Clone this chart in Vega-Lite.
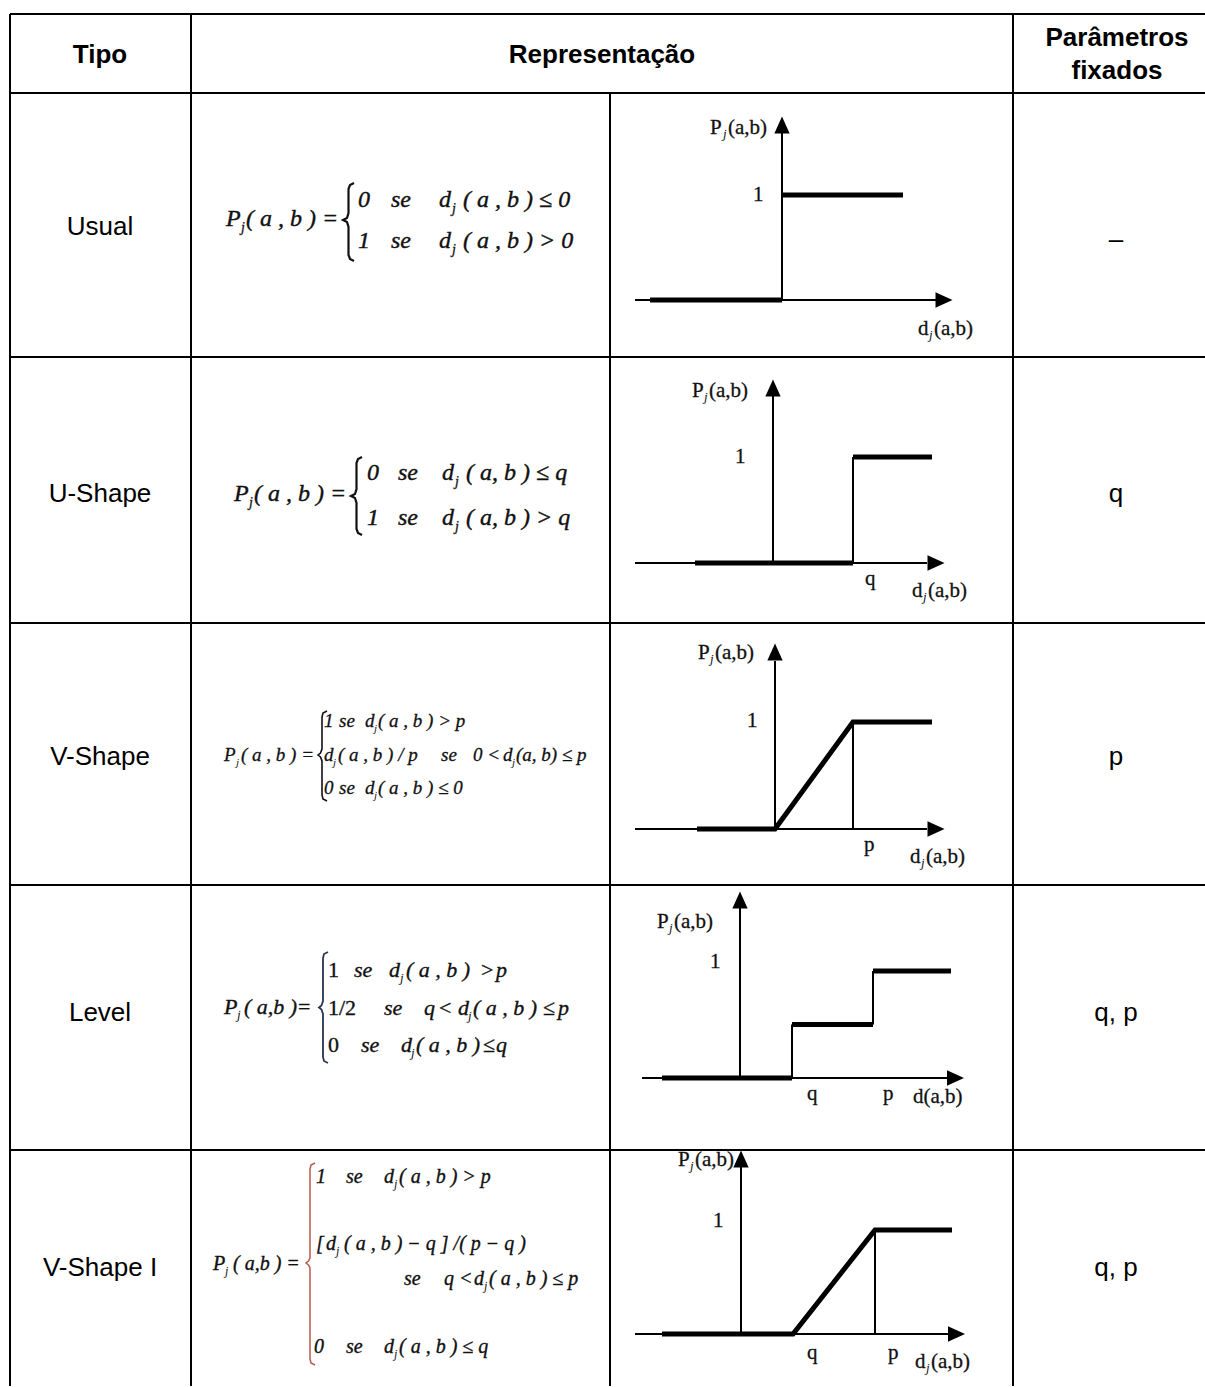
{
"$schema": "https://vega.github.io/schema/vega-lite/v6.json",
"background": "white",
"padding": {"left": 9, "top": 13, "right": 0, "bottom": 0},
"config": {"view": {"stroke": null}},
"columns": 4,
"spacing": 0,
"align": "each",
"bounds": "flush",
"concat": [
 {"width": 181, "height": 79, "layer": [
  {"data": {"values": [{}]}, "mark": {"type": "rule", "color": "#000", "strokeWidth": 2}, "encoding": {"x": {"value": 0}}},
  {"data": {"values": [{}]}, "mark": {"type": "rule", "color": "#000", "strokeWidth": 2}, "encoding": {"y": {"value": 0}}},
  {"data": {"values": [{"texto": "Tipo", "x": 90, "y": 49}]}, "mark": {"type": "text", "font": "Liberation Sans", "fontWeight": "bold", "fontSize": 26, "align": "center", "baseline": "alphabetic", "color": "#000"},
   "encoding": {"x": {"field": "x", "type": "quantitative", "scale": {"domain": [0, 181], "nice": false, "zero": false}, "axis": null}, "y": {"field": "y", "type": "quantitative", "scale": {"domain": [0, 79], "reverse": true, "nice": false, "zero": false}, "axis": null}, "text": {"field": "texto"}}}
 ]},
 {"width": 419, "height": 79, "layer": [
  {"data": {"values": [{}]}, "mark": {"type": "rule", "color": "#000", "strokeWidth": 2}, "encoding": {"x": {"value": 0}}},
  {"data": {"values": [{}]}, "mark": {"type": "rule", "color": "#000", "strokeWidth": 2}, "encoding": {"y": {"value": 0}}},
  {"data": {"values": [{"texto": "Representação", "x": 411, "y": 49}]}, "mark": {"type": "text", "font": "Liberation Sans", "fontWeight": "bold", "fontSize": 26, "align": "center", "baseline": "alphabetic", "color": "#000"},
   "encoding": {"x": {"field": "x", "type": "quantitative", "scale": {"domain": [0, 419], "nice": false, "zero": false}, "axis": null}, "y": {"field": "y", "type": "quantitative", "scale": {"domain": [0, 79], "reverse": true, "nice": false, "zero": false}, "axis": null}, "text": {"field": "texto"}}}
 ]},
 {"width": 403, "height": 79, "layer": [
  {"data": {"values": [{}]}, "mark": {"type": "rule", "color": "#000", "strokeWidth": 2}, "encoding": {"y": {"value": 0}}}
 ]},
 {"width": 194, "height": 79, "layer": [
  {"data": {"values": [{}]}, "mark": {"type": "rule", "color": "#000", "strokeWidth": 2}, "encoding": {"x": {"value": 0}}},
  {"data": {"values": [{}]}, "mark": {"type": "rule", "color": "#000", "strokeWidth": 2}, "encoding": {"y": {"value": 0}}},
  {"data": {"values": [{"texto": "Parâmetros", "x": 104, "y": 32}, {"texto": "fixados", "x": 104, "y": 65}]}, "mark": {"type": "text", "font": "Liberation Sans", "fontWeight": "bold", "fontSize": 26, "align": "center", "baseline": "alphabetic", "color": "#000"},
   "encoding": {"x": {"field": "x", "type": "quantitative", "scale": {"domain": [0, 194], "nice": false, "zero": false}, "axis": null}, "y": {"field": "y", "type": "quantitative", "scale": {"domain": [0, 79], "reverse": true, "nice": false, "zero": false}, "axis": null}, "text": {"field": "texto"}}}
 ]},

 {"width": 181, "height": 264, "layer": [
  {"data": {"values": [{}]}, "mark": {"type": "rule", "color": "#000", "strokeWidth": 2}, "encoding": {"x": {"value": 0}}},
  {"data": {"values": [{}]}, "mark": {"type": "rule", "color": "#000", "strokeWidth": 2}, "encoding": {"y": {"value": 0}}},
  {"data": {"values": [{"texto": "Usual", "x": 90, "y": 142}]}, "mark": {"type": "text", "font": "Liberation Sans", "fontSize": 26, "align": "center", "baseline": "alphabetic", "color": "#000"},
   "encoding": {"x": {"field": "x", "type": "quantitative", "scale": {"domain": [0, 181], "nice": false, "zero": false}, "axis": null}, "y": {"field": "y", "type": "quantitative", "scale": {"domain": [0, 264], "reverse": true, "nice": false, "zero": false}, "axis": null}, "text": {"field": "texto"}}}
 ]},
 {"width": 419, "height": 264, "layer": [
  {"data": {"values": [{}]}, "mark": {"type": "rule", "color": "#000", "strokeWidth": 2}, "encoding": {"x": {"value": 0}}},
  {"data": {"values": [{}]}, "mark": {"type": "rule", "color": "#000", "strokeWidth": 2}, "encoding": {"y": {"value": 0}}},
  {"data": {"values": [{"i": 0, "x": 163, "y": 90}, {"i": 1, "x": 159, "y": 92}, {"i": 2, "x": 157.5, "y": 96}, {"i": 3, "x": 157.5, "y": 120}, {"i": 4, "x": 156, "y": 125}, {"i": 5, "x": 152, "y": 127}, {"i": 6, "x": 156, "y": 129}, {"i": 7, "x": 157.5, "y": 134}, {"i": 8, "x": 157.5, "y": 162}, {"i": 9, "x": 159, "y": 166}, {"i": 10, "x": 163, "y": 168}]},
   "mark": {"type": "line", "color": "#111", "strokeWidth": 2.2},
   "encoding": {"x": {"field": "x", "type": "quantitative", "scale": {"domain": [0, 419], "nice": false, "zero": false}, "axis": null}, "y": {"field": "y", "type": "quantitative", "scale": {"domain": [0, 264], "reverse": true, "nice": false, "zero": false}, "axis": null}, "order": {"field": "i"}}},
  {"data": {"values": [
    {"t": "P", "x": 35, "y": 133, "r": "it"}, {"t": "j", "x": 50, "y": 139, "r": "sub"}, {"t": "( a , b ) =", "x": 55, "y": 133, "r": "it"},
    {"t": "0", "x": 167, "y": 114, "r": "it"}, {"t": "se", "x": 200, "y": 114, "r": "it"}, {"t": "d", "x": 248, "y": 114, "r": "it"}, {"t": "j", "x": 261, "y": 120, "r": "sub"}, {"t": "( a , b ) ≤ 0", "x": 272, "y": 114, "r": "it"},
    {"t": "1", "x": 167, "y": 155, "r": "it"}, {"t": "se", "x": 200, "y": 155, "r": "it"}, {"t": "d", "x": 248, "y": 155, "r": "it"}, {"t": "j", "x": 261, "y": 161, "r": "sub"}, {"t": "( a , b ) > 0", "x": 272, "y": 155, "r": "it"}
   ]},
   "layer": [
    {"transform": [{"filter": "datum.r == 'it'"}], "mark": {"type": "text", "font": "Liberation Serif", "fontStyle": "italic", "fontSize": 24, "align": "left", "baseline": "alphabetic", "color": "#111", "stroke": "#111", "strokeWidth": 0.4},
     "encoding": {"x": {"field": "x", "type": "quantitative", "scale": {"domain": [0, 419], "nice": false, "zero": false}, "axis": null}, "y": {"field": "y", "type": "quantitative", "scale": {"domain": [0, 264], "reverse": true, "nice": false, "zero": false}, "axis": null}, "text": {"field": "t"}}},
    {"transform": [{"filter": "datum.r == 'sub'"}], "mark": {"type": "text", "font": "Liberation Serif", "fontStyle": "italic", "fontSize": 14, "align": "left", "baseline": "alphabetic", "color": "#111", "stroke": "#111", "strokeWidth": 0.3},
     "encoding": {"x": {"field": "x", "type": "quantitative", "scale": {"domain": [0, 419], "nice": false, "zero": false}, "axis": null}, "y": {"field": "y", "type": "quantitative", "scale": {"domain": [0, 264], "reverse": true, "nice": false, "zero": false}, "axis": null}, "text": {"field": "t"}}}
   ]}
 ]},
 {"width": 403, "height": 264, "layer": [
  {"data": {"values": [{}]}, "mark": {"type": "rule", "color": "#000", "strokeWidth": 2}, "encoding": {"x": {"value": 0}}},
  {"data": {"values": [{}]}, "mark": {"type": "rule", "color": "#000", "strokeWidth": 2}, "encoding": {"y": {"value": 0}}},
  {"data": {"values": [{"x": -1.2149, "y": 0, "x2": 1.281, "y2": 0}, {"x": 0, "y": 0, "x2": 0, "y2": 1.6095}]},
   "mark": {"type": "rule", "color": "#000", "strokeWidth": 2},
   "encoding": {"x": {"field": "x", "type": "quantitative", "scale": {"domain": [-1.42149, 1.90909], "nice": false, "zero": false}, "axis": null}, "y": {"field": "y", "type": "quantitative", "scale": {"domain": [-0.54286, 1.97143], "nice": false, "zero": false}, "axis": null}, "x2": {"field": "x2"}, "y2": {"field": "y2"}}},
  {"data": {"values": [{"s": "a", "i": 0, "d": -1.0909, "P": 0}, {"s": "a", "i": 1, "d": 0, "P": 0}, {"s": "b", "i": 0, "d": 0, "P": 1}, {"s": "b", "i": 1, "d": 1, "P": 1}]},
   "mark": {"type": "line", "color": "#000", "strokeWidth": 5, "strokeCap": "butt", "strokeJoin": "miter"},
   "encoding": {"x": {"field": "d", "type": "quantitative", "scale": {"domain": [-1.42149, 1.90909], "nice": false, "zero": false}, "axis": null}, "y": {"field": "P", "type": "quantitative", "scale": {"domain": [-0.54286, 1.97143], "nice": false, "zero": false}, "axis": null}, "detail": {"field": "s"}, "order": {"field": "i"}}},
  {"data": {"values": [{"d": 1.3388, "P": 0, "dir": "direita"}, {"d": 0, "P": 1.6667, "dir": "cima"}]},
   "mark": {"type": "point", "filled": true, "color": "#000", "opacity": 1, "size": 289, "strokeWidth": 0},
   "encoding": {"x": {"field": "d", "type": "quantitative", "scale": {"domain": [-1.42149, 1.90909], "nice": false, "zero": false}, "axis": null}, "y": {"field": "P", "type": "quantitative", "scale": {"domain": [-0.54286, 1.97143], "nice": false, "zero": false}, "axis": null}, "shape": {"field": "dir", "type": "nominal", "scale": {"domain": ["cima", "direita"], "range": ["M0,-1L0.9,1L-0.9,1Z", "M1,0L-1,0.9L-1,-0.9Z"]}, "legend": null}}},
  {"data": {"values": [
    {"t": "P", "d": -0.595, "P": 1.581, "r": "rm"}, {"t": "j", "d": -0.4876, "P": 1.543, "r": "sub"}, {"t": "(a,b)", "d": -0.4463, "P": 1.581, "r": "rm"},
    {"t": "1", "d": -0.2397, "P": 0.9429, "r": "rm"},
    {"t": "d", "d": 1.124, "P": -0.3333, "r": "rm"}, {"t": "j", "d": 1.2149, "P": -0.3714, "r": "sub"}, {"t": "(a,b)", "d": 1.2562, "P": -0.3333, "r": "rm"}
   ]},
   "layer": [
    {"transform": [{"filter": "datum.r == 'rm'"}], "mark": {"type": "text", "font": "Liberation Serif", "fontSize": 21, "align": "left", "baseline": "alphabetic", "color": "#111", "stroke": "#111", "strokeWidth": 0.3},
     "encoding": {"x": {"field": "d", "type": "quantitative", "scale": {"domain": [-1.42149, 1.90909], "nice": false, "zero": false}, "axis": null}, "y": {"field": "P", "type": "quantitative", "scale": {"domain": [-0.54286, 1.97143], "nice": false, "zero": false}, "axis": null}, "text": {"field": "t"}}},
    {"transform": [{"filter": "datum.r == 'sub'"}], "mark": {"type": "text", "font": "Liberation Serif", "fontStyle": "italic", "fontSize": 13, "align": "left", "baseline": "alphabetic", "color": "#111"},
     "encoding": {"x": {"field": "d", "type": "quantitative", "scale": {"domain": [-1.42149, 1.90909], "nice": false, "zero": false}, "axis": null}, "y": {"field": "P", "type": "quantitative", "scale": {"domain": [-0.54286, 1.97143], "nice": false, "zero": false}, "axis": null}, "text": {"field": "t"}}}
   ]}
 ]},
 {"width": 194, "height": 264, "layer": [
  {"data": {"values": [{}]}, "mark": {"type": "rule", "color": "#000", "strokeWidth": 2}, "encoding": {"x": {"value": 0}}},
  {"data": {"values": [{}]}, "mark": {"type": "rule", "color": "#000", "strokeWidth": 2}, "encoding": {"y": {"value": 0}}},
  {"data": {"values": [{"texto": "–", "x": 103, "y": 155}]}, "mark": {"type": "text", "font": "Liberation Sans", "fontSize": 26, "align": "center", "baseline": "alphabetic", "color": "#000"},
   "encoding": {"x": {"field": "x", "type": "quantitative", "scale": {"domain": [0, 194], "nice": false, "zero": false}, "axis": null}, "y": {"field": "y", "type": "quantitative", "scale": {"domain": [0, 264], "reverse": true, "nice": false, "zero": false}, "axis": null}, "text": {"field": "texto"}}}
 ]},

 {"width": 181, "height": 266, "layer": [
  {"data": {"values": [{}]}, "mark": {"type": "rule", "color": "#000", "strokeWidth": 2}, "encoding": {"x": {"value": 0}}},
  {"data": {"values": [{}]}, "mark": {"type": "rule", "color": "#000", "strokeWidth": 2}, "encoding": {"y": {"value": 0}}},
  {"data": {"values": [{"texto": "U-Shape", "x": 90, "y": 145}]}, "mark": {"type": "text", "font": "Liberation Sans", "fontSize": 26, "align": "center", "baseline": "alphabetic", "color": "#000"},
   "encoding": {"x": {"field": "x", "type": "quantitative", "scale": {"domain": [0, 181], "nice": false, "zero": false}, "axis": null}, "y": {"field": "y", "type": "quantitative", "scale": {"domain": [0, 266], "reverse": true, "nice": false, "zero": false}, "axis": null}, "text": {"field": "texto"}}}
 ]},
 {"width": 419, "height": 266, "layer": [
  {"data": {"values": [{}]}, "mark": {"type": "rule", "color": "#000", "strokeWidth": 2}, "encoding": {"x": {"value": 0}}},
  {"data": {"values": [{}]}, "mark": {"type": "rule", "color": "#000", "strokeWidth": 2}, "encoding": {"y": {"value": 0}}},
  {"data": {"values": [{"i": 0, "x": 171, "y": 100}, {"i": 1, "x": 167, "y": 102}, {"i": 2, "x": 165.5, "y": 106}, {"i": 3, "x": 165.5, "y": 132}, {"i": 4, "x": 164, "y": 137}, {"i": 5, "x": 160, "y": 139}, {"i": 6, "x": 164, "y": 141}, {"i": 7, "x": 165.5, "y": 146}, {"i": 8, "x": 165.5, "y": 172}, {"i": 9, "x": 167, "y": 176}, {"i": 10, "x": 171, "y": 178}]},
   "mark": {"type": "line", "color": "#111", "strokeWidth": 2.2},
   "encoding": {"x": {"field": "x", "type": "quantitative", "scale": {"domain": [0, 419], "nice": false, "zero": false}, "axis": null}, "y": {"field": "y", "type": "quantitative", "scale": {"domain": [0, 266], "reverse": true, "nice": false, "zero": false}, "axis": null}, "order": {"field": "i"}}},
  {"data": {"values": [
    {"t": "P", "x": 43, "y": 144, "r": "it"}, {"t": "j", "x": 58, "y": 150, "r": "sub"}, {"t": "( a , b ) =", "x": 63, "y": 144, "r": "it"},
    {"t": "0", "x": 176, "y": 123, "r": "it"}, {"t": "se", "x": 207, "y": 123, "r": "it"}, {"t": "d", "x": 251, "y": 123, "r": "it"}, {"t": "j", "x": 264, "y": 129, "r": "sub"}, {"t": "( a, b ) ≤ q", "x": 275, "y": 123, "r": "it"},
    {"t": "1", "x": 176, "y": 168, "r": "it"}, {"t": "se", "x": 207, "y": 168, "r": "it"}, {"t": "d", "x": 251, "y": 168, "r": "it"}, {"t": "j", "x": 264, "y": 174, "r": "sub"}, {"t": "( a, b ) > q", "x": 275, "y": 168, "r": "it"}
   ]},
   "layer": [
    {"transform": [{"filter": "datum.r == 'it'"}], "mark": {"type": "text", "font": "Liberation Serif", "fontStyle": "italic", "fontSize": 24, "align": "left", "baseline": "alphabetic", "color": "#111", "stroke": "#111", "strokeWidth": 0.4},
     "encoding": {"x": {"field": "x", "type": "quantitative", "scale": {"domain": [0, 419], "nice": false, "zero": false}, "axis": null}, "y": {"field": "y", "type": "quantitative", "scale": {"domain": [0, 266], "reverse": true, "nice": false, "zero": false}, "axis": null}, "text": {"field": "t"}}},
    {"transform": [{"filter": "datum.r == 'sub'"}], "mark": {"type": "text", "font": "Liberation Serif", "fontStyle": "italic", "fontSize": 14, "align": "left", "baseline": "alphabetic", "color": "#111", "stroke": "#111", "strokeWidth": 0.3},
     "encoding": {"x": {"field": "x", "type": "quantitative", "scale": {"domain": [0, 419], "nice": false, "zero": false}, "axis": null}, "y": {"field": "y", "type": "quantitative", "scale": {"domain": [0, 266], "reverse": true, "nice": false, "zero": false}, "axis": null}, "text": {"field": "t"}}}
   ]}
 ]},
 {"width": 403, "height": 266, "layer": [
  {"data": {"values": [{}]}, "mark": {"type": "rule", "color": "#000", "strokeWidth": 2}, "encoding": {"x": {"value": 0}}},
  {"data": {"values": [{}]}, "mark": {"type": "rule", "color": "#000", "strokeWidth": 2}, "encoding": {"y": {"value": 0}}},
  {"data": {"values": [{"x": -1.725, "y": 0, "x2": 1.925, "y2": 0}, {"x": 0, "y": 0, "x2": 0, "y2": 1.585}, {"x": 1, "y": 0, "x2": 1, "y2": 1}]},
   "mark": {"type": "rule", "color": "#000", "strokeWidth": 2},
   "encoding": {"x": {"field": "x", "type": "quantitative", "scale": {"domain": [-2.0375, 3.0], "nice": false, "zero": false}, "axis": null}, "y": {"field": "y", "type": "quantitative", "scale": {"domain": [-0.56604, 1.943396], "nice": false, "zero": false}, "axis": null}, "x2": {"field": "x2"}, "y2": {"field": "y2"}}},
  {"data": {"values": [{"s": "a", "i": 0, "d": -0.975, "P": 0}, {"s": "a", "i": 1, "d": 1, "P": 0}, {"s": "b", "i": 0, "d": 1, "P": 1}, {"s": "b", "i": 1, "d": 1.9875, "P": 1}]},
   "mark": {"type": "line", "color": "#000", "strokeWidth": 5, "strokeCap": "butt", "strokeJoin": "miter"},
   "encoding": {"x": {"field": "d", "type": "quantitative", "scale": {"domain": [-2.0375, 3.0], "nice": false, "zero": false}, "axis": null}, "y": {"field": "P", "type": "quantitative", "scale": {"domain": [-0.56604, 1.943396], "nice": false, "zero": false}, "axis": null}, "detail": {"field": "s"}, "order": {"field": "i"}}},
  {"data": {"values": [{"d": 2.0375, "P": 0, "dir": "direita"}, {"d": 0, "P": 1.651, "dir": "cima"}]},
   "mark": {"type": "point", "filled": true, "color": "#000", "opacity": 1, "size": 289, "strokeWidth": 0},
   "encoding": {"x": {"field": "d", "type": "quantitative", "scale": {"domain": [-2.0375, 3.0], "nice": false, "zero": false}, "axis": null}, "y": {"field": "P", "type": "quantitative", "scale": {"domain": [-0.56604, 1.943396], "nice": false, "zero": false}, "axis": null}, "shape": {"field": "dir", "type": "nominal", "scale": {"domain": ["cima", "direita"], "range": ["M0,-1L0.9,1L-0.9,1Z", "M1,0L-1,0.9L-1,-0.9Z"]}, "legend": null}}},
  {"data": {"values": [
    {"t": "P", "d": -1.0125, "P": 1.566, "r": "rm"}, {"t": "j", "d": -0.8625, "P": 1.528, "r": "sub"}, {"t": "(a,b)", "d": -0.8, "P": 1.566, "r": "rm"},
    {"t": "1", "d": -0.475, "P": 0.943, "r": "rm"},
    {"t": "q", "d": 1.15, "P": -0.2075, "r": "rm"},
    {"t": "d", "d": 1.7375, "P": -0.3208, "r": "rm"}, {"t": "j", "d": 1.875, "P": -0.3585, "r": "sub"}, {"t": "(a,b)", "d": 1.9375, "P": -0.3208, "r": "rm"}
   ]},
   "layer": [
    {"transform": [{"filter": "datum.r == 'rm'"}], "mark": {"type": "text", "font": "Liberation Serif", "fontSize": 21, "align": "left", "baseline": "alphabetic", "color": "#111", "stroke": "#111", "strokeWidth": 0.3},
     "encoding": {"x": {"field": "d", "type": "quantitative", "scale": {"domain": [-2.0375, 3.0], "nice": false, "zero": false}, "axis": null}, "y": {"field": "P", "type": "quantitative", "scale": {"domain": [-0.56604, 1.943396], "nice": false, "zero": false}, "axis": null}, "text": {"field": "t"}}},
    {"transform": [{"filter": "datum.r == 'sub'"}], "mark": {"type": "text", "font": "Liberation Serif", "fontStyle": "italic", "fontSize": 13, "align": "left", "baseline": "alphabetic", "color": "#111"},
     "encoding": {"x": {"field": "d", "type": "quantitative", "scale": {"domain": [-2.0375, 3.0], "nice": false, "zero": false}, "axis": null}, "y": {"field": "P", "type": "quantitative", "scale": {"domain": [-0.56604, 1.943396], "nice": false, "zero": false}, "axis": null}, "text": {"field": "t"}}}
   ]}
 ]},
 {"width": 194, "height": 266, "layer": [
  {"data": {"values": [{}]}, "mark": {"type": "rule", "color": "#000", "strokeWidth": 2}, "encoding": {"x": {"value": 0}}},
  {"data": {"values": [{}]}, "mark": {"type": "rule", "color": "#000", "strokeWidth": 2}, "encoding": {"y": {"value": 0}}},
  {"data": {"values": [{"texto": "q", "x": 103, "y": 145}]}, "mark": {"type": "text", "font": "Liberation Sans", "fontSize": 26, "align": "center", "baseline": "alphabetic", "color": "#000"},
   "encoding": {"x": {"field": "x", "type": "quantitative", "scale": {"domain": [0, 194], "nice": false, "zero": false}, "axis": null}, "y": {"field": "y", "type": "quantitative", "scale": {"domain": [0, 266], "reverse": true, "nice": false, "zero": false}, "axis": null}, "text": {"field": "texto"}}}
 ]},

 {"width": 181, "height": 262, "layer": [
  {"data": {"values": [{}]}, "mark": {"type": "rule", "color": "#000", "strokeWidth": 2}, "encoding": {"x": {"value": 0}}},
  {"data": {"values": [{}]}, "mark": {"type": "rule", "color": "#000", "strokeWidth": 2}, "encoding": {"y": {"value": 0}}},
  {"data": {"values": [{"texto": "V-Shape", "x": 90, "y": 142}]}, "mark": {"type": "text", "font": "Liberation Sans", "fontSize": 26, "align": "center", "baseline": "alphabetic", "color": "#000"},
   "encoding": {"x": {"field": "x", "type": "quantitative", "scale": {"domain": [0, 181], "nice": false, "zero": false}, "axis": null}, "y": {"field": "y", "type": "quantitative", "scale": {"domain": [0, 262], "reverse": true, "nice": false, "zero": false}, "axis": null}, "text": {"field": "texto"}}}
 ]},
 {"width": 419, "height": 262, "layer": [
  {"data": {"values": [{}]}, "mark": {"type": "rule", "color": "#000", "strokeWidth": 2}, "encoding": {"x": {"value": 0}}},
  {"data": {"values": [{}]}, "mark": {"type": "rule", "color": "#000", "strokeWidth": 2}, "encoding": {"y": {"value": 0}}},
  {"data": {"values": [{"i": 0, "x": 136, "y": 88}, {"i": 1, "x": 132, "y": 90}, {"i": 2, "x": 131, "y": 94}, {"i": 3, "x": 131, "y": 126}, {"i": 4, "x": 129.5, "y": 130}, {"i": 5, "x": 127, "y": 132}, {"i": 6, "x": 129.5, "y": 134}, {"i": 7, "x": 131, "y": 138}, {"i": 8, "x": 131, "y": 172}, {"i": 9, "x": 132, "y": 176}, {"i": 10, "x": 136, "y": 178}]},
   "mark": {"type": "line", "color": "#111", "strokeWidth": 1.6},
   "encoding": {"x": {"field": "x", "type": "quantitative", "scale": {"domain": [0, 419], "nice": false, "zero": false}, "axis": null}, "y": {"field": "y", "type": "quantitative", "scale": {"domain": [0, 262], "reverse": true, "nice": false, "zero": false}, "axis": null}, "order": {"field": "i"}}},
  {"data": {"values": [
    {"t": "P", "x": 33, "y": 138, "r": "it"}, {"t": "j", "x": 45, "y": 143, "r": "sub"}, {"t": "( a , b ) =", "x": 50, "y": 138, "r": "it"},
    {"t": "1", "x": 133, "y": 104, "r": "it"}, {"t": "se", "x": 148, "y": 104, "r": "it"}, {"t": "d", "x": 174, "y": 104, "r": "it"}, {"t": "j", "x": 183, "y": 109, "r": "sub"}, {"t": "( a , b ) > p", "x": 187, "y": 104, "r": "it"},
    {"t": "d", "x": 133, "y": 138, "r": "it"}, {"t": "j", "x": 142, "y": 143, "r": "sub"}, {"t": "( a , b ) / p", "x": 147, "y": 138, "r": "it"}, {"t": "se", "x": 250, "y": 138, "r": "it"}, {"t": "0 <", "x": 282, "y": 138, "r": "it"}, {"t": "d", "x": 312, "y": 138, "r": "it"}, {"t": "j", "x": 321, "y": 143, "r": "sub"}, {"t": "(a, b) ≤ p", "x": 325, "y": 138, "r": "it"},
    {"t": "0", "x": 133, "y": 171, "r": "it"}, {"t": "se", "x": 148, "y": 171, "r": "it"}, {"t": "d", "x": 174, "y": 171, "r": "it"}, {"t": "j", "x": 183, "y": 176, "r": "sub"}, {"t": "( a , b ) ≤ 0", "x": 187, "y": 171, "r": "it"}
   ]},
   "layer": [
    {"transform": [{"filter": "datum.r == 'it'"}], "mark": {"type": "text", "font": "Liberation Serif", "fontStyle": "italic", "fontSize": 19, "align": "left", "baseline": "alphabetic", "color": "#111", "stroke": "#111", "strokeWidth": 0.3},
     "encoding": {"x": {"field": "x", "type": "quantitative", "scale": {"domain": [0, 419], "nice": false, "zero": false}, "axis": null}, "y": {"field": "y", "type": "quantitative", "scale": {"domain": [0, 262], "reverse": true, "nice": false, "zero": false}, "axis": null}, "text": {"field": "t"}}},
    {"transform": [{"filter": "datum.r == 'sub'"}], "mark": {"type": "text", "font": "Liberation Serif", "fontStyle": "italic", "fontSize": 11, "align": "left", "baseline": "alphabetic", "color": "#111"},
     "encoding": {"x": {"field": "x", "type": "quantitative", "scale": {"domain": [0, 419], "nice": false, "zero": false}, "axis": null}, "y": {"field": "y", "type": "quantitative", "scale": {"domain": [0, 262], "reverse": true, "nice": false, "zero": false}, "axis": null}, "text": {"field": "t"}}}
   ]}
 ]},
 {"width": 403, "height": 262, "layer": [
  {"data": {"values": [{}]}, "mark": {"type": "rule", "color": "#000", "strokeWidth": 2}, "encoding": {"x": {"value": 0}}},
  {"data": {"values": [{}]}, "mark": {"type": "rule", "color": "#000", "strokeWidth": 2}, "encoding": {"y": {"value": 0}}},
  {"data": {"values": [{"x": -1.7949, "y": 0, "x2": 1.9487, "y2": 0}, {"x": 0, "y": 0, "x2": 0, "y2": 1.57}, {"x": 1, "y": 0, "x2": 1, "y2": 1}]},
   "mark": {"type": "rule", "color": "#000", "strokeWidth": 2},
   "encoding": {"x": {"field": "x", "type": "quantitative", "scale": {"domain": [-2.11538, 3.05128], "nice": false, "zero": false}, "axis": null}, "y": {"field": "y", "type": "quantitative", "scale": {"domain": [-0.523364, 1.925234], "nice": false, "zero": false}, "axis": null}, "x2": {"field": "x2"}, "y2": {"field": "y2"}}},
  {"data": {"values": [{"s": "a", "i": 0, "d": -1.0, "P": 0}, {"s": "a", "i": 1, "d": 0, "P": 0}, {"s": "a", "i": 2, "d": 1, "P": 1}, {"s": "a", "i": 3, "d": 2.0128, "P": 1}]},
   "mark": {"type": "line", "color": "#000", "strokeWidth": 5, "strokeCap": "butt", "strokeJoin": "miter"},
   "encoding": {"x": {"field": "d", "type": "quantitative", "scale": {"domain": [-2.11538, 3.05128], "nice": false, "zero": false}, "axis": null}, "y": {"field": "P", "type": "quantitative", "scale": {"domain": [-0.523364, 1.925234], "nice": false, "zero": false}, "axis": null}, "detail": {"field": "s"}, "order": {"field": "i"}}},
  {"data": {"values": [{"d": 2.0641, "P": 0, "dir": "direita"}, {"d": 0, "P": 1.6542, "dir": "cima"}]},
   "mark": {"type": "point", "filled": true, "color": "#000", "opacity": 1, "size": 289, "strokeWidth": 0},
   "encoding": {"x": {"field": "d", "type": "quantitative", "scale": {"domain": [-2.11538, 3.05128], "nice": false, "zero": false}, "axis": null}, "y": {"field": "P", "type": "quantitative", "scale": {"domain": [-0.523364, 1.925234], "nice": false, "zero": false}, "axis": null}, "shape": {"field": "dir", "type": "nominal", "scale": {"domain": ["cima", "direita"], "range": ["M0,-1L0.9,1L-0.9,1Z", "M1,0L-1,0.9L-1,-0.9Z"]}, "legend": null}}},
  {"data": {"values": [
    {"t": "P", "d": -0.9872, "P": 1.5888, "r": "rm"}, {"t": "j", "d": -0.8333, "P": 1.5514, "r": "sub"}, {"t": "(a,b)", "d": -0.7692, "P": 1.5888, "r": "rm"},
    {"t": "1", "d": -0.359, "P": 0.9533, "r": "rm"},
    {"t": "p", "d": 1.141, "P": -0.2056, "r": "rm"},
    {"t": "d", "d": 1.7308, "P": -0.3178, "r": "rm"}, {"t": "j", "d": 1.8718, "P": -0.3551, "r": "sub"}, {"t": "(a,b)", "d": 1.9359, "P": -0.3178, "r": "rm"}
   ]},
   "layer": [
    {"transform": [{"filter": "datum.r == 'rm'"}], "mark": {"type": "text", "font": "Liberation Serif", "fontSize": 21, "align": "left", "baseline": "alphabetic", "color": "#111", "stroke": "#111", "strokeWidth": 0.3},
     "encoding": {"x": {"field": "d", "type": "quantitative", "scale": {"domain": [-2.11538, 3.05128], "nice": false, "zero": false}, "axis": null}, "y": {"field": "P", "type": "quantitative", "scale": {"domain": [-0.523364, 1.925234], "nice": false, "zero": false}, "axis": null}, "text": {"field": "t"}}},
    {"transform": [{"filter": "datum.r == 'sub'"}], "mark": {"type": "text", "font": "Liberation Serif", "fontStyle": "italic", "fontSize": 13, "align": "left", "baseline": "alphabetic", "color": "#111"},
     "encoding": {"x": {"field": "d", "type": "quantitative", "scale": {"domain": [-2.11538, 3.05128], "nice": false, "zero": false}, "axis": null}, "y": {"field": "P", "type": "quantitative", "scale": {"domain": [-0.523364, 1.925234], "nice": false, "zero": false}, "axis": null}, "text": {"field": "t"}}}
   ]}
 ]},
 {"width": 194, "height": 262, "layer": [
  {"data": {"values": [{}]}, "mark": {"type": "rule", "color": "#000", "strokeWidth": 2}, "encoding": {"x": {"value": 0}}},
  {"data": {"values": [{}]}, "mark": {"type": "rule", "color": "#000", "strokeWidth": 2}, "encoding": {"y": {"value": 0}}},
  {"data": {"values": [{"texto": "p", "x": 103, "y": 142}]}, "mark": {"type": "text", "font": "Liberation Sans", "fontSize": 26, "align": "center", "baseline": "alphabetic", "color": "#000"},
   "encoding": {"x": {"field": "x", "type": "quantitative", "scale": {"domain": [0, 194], "nice": false, "zero": false}, "axis": null}, "y": {"field": "y", "type": "quantitative", "scale": {"domain": [0, 262], "reverse": true, "nice": false, "zero": false}, "axis": null}, "text": {"field": "texto"}}}
 ]},

 {"width": 181, "height": 265, "layer": [
  {"data": {"values": [{}]}, "mark": {"type": "rule", "color": "#000", "strokeWidth": 2}, "encoding": {"x": {"value": 0}}},
  {"data": {"values": [{}]}, "mark": {"type": "rule", "color": "#000", "strokeWidth": 2}, "encoding": {"y": {"value": 0}}},
  {"data": {"values": [{"texto": "Level", "x": 90, "y": 136}]}, "mark": {"type": "text", "font": "Liberation Sans", "fontSize": 26, "align": "center", "baseline": "alphabetic", "color": "#000"},
   "encoding": {"x": {"field": "x", "type": "quantitative", "scale": {"domain": [0, 181], "nice": false, "zero": false}, "axis": null}, "y": {"field": "y", "type": "quantitative", "scale": {"domain": [0, 265], "reverse": true, "nice": false, "zero": false}, "axis": null}, "text": {"field": "texto"}}}
 ]},
 {"width": 419, "height": 265, "layer": [
  {"data": {"values": [{}]}, "mark": {"type": "rule", "color": "#000", "strokeWidth": 2}, "encoding": {"x": {"value": 0}}},
  {"data": {"values": [{}]}, "mark": {"type": "rule", "color": "#000", "strokeWidth": 2}, "encoding": {"y": {"value": 0}}},
  {"data": {"values": [{"i": 0, "x": 137, "y": 67}, {"i": 1, "x": 133, "y": 69}, {"i": 2, "x": 132, "y": 73}, {"i": 3, "x": 132, "y": 116}, {"i": 4, "x": 130.5, "y": 120.5}, {"i": 5, "x": 128, "y": 122.5}, {"i": 6, "x": 130.5, "y": 124.5}, {"i": 7, "x": 132, "y": 129}, {"i": 8, "x": 132, "y": 172}, {"i": 9, "x": 133, "y": 176}, {"i": 10, "x": 137, "y": 178}]},
   "mark": {"type": "line", "color": "#2a3550", "strokeWidth": 1.8},
   "encoding": {"x": {"field": "x", "type": "quantitative", "scale": {"domain": [0, 419], "nice": false, "zero": false}, "axis": null}, "y": {"field": "y", "type": "quantitative", "scale": {"domain": [0, 265], "reverse": true, "nice": false, "zero": false}, "axis": null}, "order": {"field": "i"}}},
  {"data": {"values": [
    {"t": "P", "x": 33, "y": 129, "r": "it"}, {"t": "j", "x": 46, "y": 134, "r": "sub"}, {"t": "( a,b )", "x": 53, "y": 129, "r": "it"}, {"t": "=", "x": 107, "y": 129, "r": "rm"},
    {"t": "1", "x": 137, "y": 92, "r": "rm"}, {"t": "se", "x": 163, "y": 92, "r": "it"}, {"t": "d", "x": 198, "y": 92, "r": "it"}, {"t": "j", "x": 209, "y": 97, "r": "sub"}, {"t": "( a , b )", "x": 215, "y": 92, "r": "it"}, {"t": ">", "x": 290, "y": 92, "r": "rm"}, {"t": "p", "x": 305, "y": 92, "r": "it"},
    {"t": "1/2", "x": 137, "y": 130, "r": "rm"}, {"t": "se", "x": 193, "y": 130, "r": "it"}, {"t": "q", "x": 233, "y": 130, "r": "it"}, {"t": "<", "x": 248, "y": 130, "r": "rm"}, {"t": "d", "x": 267, "y": 130, "r": "it"}, {"t": "j", "x": 277, "y": 135, "r": "sub"}, {"t": "( a , b )", "x": 282, "y": 130, "r": "it"}, {"t": "≤", "x": 352, "y": 130, "r": "rm"}, {"t": "p", "x": 367, "y": 130, "r": "it"},
    {"t": "0", "x": 137, "y": 167, "r": "rm"}, {"t": "se", "x": 170, "y": 167, "r": "it"}, {"t": "d", "x": 210, "y": 167, "r": "it"}, {"t": "j", "x": 220, "y": 172, "r": "sub"}, {"t": "( a , b )", "x": 225, "y": 167, "r": "it"}, {"t": "≤", "x": 292, "y": 167, "r": "rm"}, {"t": "q", "x": 305, "y": 167, "r": "it"}
   ]},
   "layer": [
    {"transform": [{"filter": "datum.r == 'it'"}], "mark": {"type": "text", "font": "Liberation Serif", "fontStyle": "italic", "fontSize": 22, "align": "left", "baseline": "alphabetic", "color": "#111", "stroke": "#111", "strokeWidth": 0.35},
     "encoding": {"x": {"field": "x", "type": "quantitative", "scale": {"domain": [0, 419], "nice": false, "zero": false}, "axis": null}, "y": {"field": "y", "type": "quantitative", "scale": {"domain": [0, 265], "reverse": true, "nice": false, "zero": false}, "axis": null}, "text": {"field": "t"}}},
    {"transform": [{"filter": "datum.r == 'rm'"}], "mark": {"type": "text", "font": "Liberation Serif", "fontSize": 22, "align": "left", "baseline": "alphabetic", "color": "#111", "stroke": "#111", "strokeWidth": 0.35},
     "encoding": {"x": {"field": "x", "type": "quantitative", "scale": {"domain": [0, 419], "nice": false, "zero": false}, "axis": null}, "y": {"field": "y", "type": "quantitative", "scale": {"domain": [0, 265], "reverse": true, "nice": false, "zero": false}, "axis": null}, "text": {"field": "t"}}},
    {"transform": [{"filter": "datum.r == 'sub'"}], "mark": {"type": "text", "font": "Liberation Serif", "fontStyle": "italic", "fontSize": 13, "align": "left", "baseline": "alphabetic", "color": "#111"},
     "encoding": {"x": {"field": "x", "type": "quantitative", "scale": {"domain": [0, 419], "nice": false, "zero": false}, "axis": null}, "y": {"field": "y", "type": "quantitative", "scale": {"domain": [0, 265], "reverse": true, "nice": false, "zero": false}, "axis": null}, "text": {"field": "t"}}}
   ]}
 ]},
 {"width": 403, "height": 265, "layer": [
  {"data": {"values": [{}]}, "mark": {"type": "rule", "color": "#000", "strokeWidth": 2}, "encoding": {"x": {"value": 0}}},
  {"data": {"values": [{}]}, "mark": {"type": "rule", "color": "#000", "strokeWidth": 2}, "encoding": {"y": {"value": 0}}},
  {"data": {"values": [{"x": -1.8846, "y": 0, "x2": 4.0, "y2": 0}, {"x": 0, "y": 0, "x2": 0, "y2": 1.61}, {"x": 1, "y": 0, "x2": 1, "y2": 0.5}, {"x": 2.5577, "y": 0.5, "x2": 2.5577, "y2": 1}]},
   "mark": {"type": "rule", "color": "#000", "strokeWidth": 2},
   "encoding": {"x": {"field": "x", "type": "quantitative", "scale": {"domain": [-2.5, 5.25], "nice": false, "zero": false}, "axis": null}, "y": {"field": "y", "type": "quantitative", "scale": {"domain": [-0.672897, 1.803738], "nice": false, "zero": false}, "axis": null}, "x2": {"field": "x2"}, "y2": {"field": "y2"}}},
  {"data": {"values": [{"s": "a", "i": 0, "d": -1.5, "P": 0}, {"s": "a", "i": 1, "d": 1, "P": 0}, {"s": "b", "i": 0, "d": 1, "P": 0.5}, {"s": "b", "i": 1, "d": 2.5577, "P": 0.5}, {"s": "c", "i": 0, "d": 2.5577, "P": 1}, {"s": "c", "i": 1, "d": 4.0577, "P": 1}]},
   "mark": {"type": "line", "color": "#000", "strokeWidth": 5, "strokeCap": "butt", "strokeJoin": "miter"},
   "encoding": {"x": {"field": "d", "type": "quantitative", "scale": {"domain": [-2.5, 5.25], "nice": false, "zero": false}, "axis": null}, "y": {"field": "P", "type": "quantitative", "scale": {"domain": [-0.672897, 1.803738], "nice": false, "zero": false}, "axis": null}, "detail": {"field": "s"}, "order": {"field": "i"}}},
  {"data": {"values": [{"d": 4.1442, "P": 0, "dir": "direita"}, {"d": 0, "P": 1.6636, "dir": "cima"}]},
   "mark": {"type": "point", "filled": true, "color": "#000", "opacity": 1, "size": 289, "strokeWidth": 0},
   "encoding": {"x": {"field": "d", "type": "quantitative", "scale": {"domain": [-2.5, 5.25], "nice": false, "zero": false}, "axis": null}, "y": {"field": "P", "type": "quantitative", "scale": {"domain": [-0.672897, 1.803738], "nice": false, "zero": false}, "axis": null}, "shape": {"field": "dir", "type": "nominal", "scale": {"domain": ["cima", "direita"], "range": ["M0,-1L0.9,1L-0.9,1Z", "M1,0L-1,0.9L-1,-0.9Z"]}, "legend": null}}},
  {"data": {"values": [
    {"t": "P", "d": -1.5962, "P": 1.4019, "r": "rm"}, {"t": "j", "d": -1.3654, "P": 1.3645, "r": "sub"}, {"t": "(a,b)", "d": -1.2692, "P": 1.4019, "r": "rm"},
    {"t": "1", "d": -0.5769, "P": 1.028, "r": "rm"},
    {"t": "q", "d": 1.2885, "P": -0.2056, "r": "rm"}, {"t": "p", "d": 2.75, "P": -0.2056, "r": "rm"},
    {"t": "d(a,b)", "d": 3.3269, "P": -0.2336, "r": "rm"}
   ]},
   "layer": [
    {"transform": [{"filter": "datum.r == 'rm'"}], "mark": {"type": "text", "font": "Liberation Serif", "fontSize": 21, "align": "left", "baseline": "alphabetic", "color": "#111", "stroke": "#111", "strokeWidth": 0.3},
     "encoding": {"x": {"field": "d", "type": "quantitative", "scale": {"domain": [-2.5, 5.25], "nice": false, "zero": false}, "axis": null}, "y": {"field": "P", "type": "quantitative", "scale": {"domain": [-0.672897, 1.803738], "nice": false, "zero": false}, "axis": null}, "text": {"field": "t"}}},
    {"transform": [{"filter": "datum.r == 'sub'"}], "mark": {"type": "text", "font": "Liberation Serif", "fontStyle": "italic", "fontSize": 13, "align": "left", "baseline": "alphabetic", "color": "#111"},
     "encoding": {"x": {"field": "d", "type": "quantitative", "scale": {"domain": [-2.5, 5.25], "nice": false, "zero": false}, "axis": null}, "y": {"field": "P", "type": "quantitative", "scale": {"domain": [-0.672897, 1.803738], "nice": false, "zero": false}, "axis": null}, "text": {"field": "t"}}}
   ]}
 ]},
 {"width": 194, "height": 265, "layer": [
  {"data": {"values": [{}]}, "mark": {"type": "rule", "color": "#000", "strokeWidth": 2}, "encoding": {"x": {"value": 0}}},
  {"data": {"values": [{}]}, "mark": {"type": "rule", "color": "#000", "strokeWidth": 2}, "encoding": {"y": {"value": 0}}},
  {"data": {"values": [{"texto": "q, p", "x": 103, "y": 136}]}, "mark": {"type": "text", "font": "Liberation Sans", "fontSize": 26, "align": "center", "baseline": "alphabetic", "color": "#000"},
   "encoding": {"x": {"field": "x", "type": "quantitative", "scale": {"domain": [0, 194], "nice": false, "zero": false}, "axis": null}, "y": {"field": "y", "type": "quantitative", "scale": {"domain": [0, 265], "reverse": true, "nice": false, "zero": false}, "axis": null}, "text": {"field": "texto"}}}
 ]},

 {"width": 181, "height": 236, "layer": [
  {"data": {"values": [{}]}, "mark": {"type": "rule", "color": "#000", "strokeWidth": 2}, "encoding": {"x": {"value": 0}}},
  {"data": {"values": [{}]}, "mark": {"type": "rule", "color": "#000", "strokeWidth": 2}, "encoding": {"y": {"value": 0}}},
  {"data": {"values": [{"texto": "V-Shape I", "x": 90, "y": 126}]}, "mark": {"type": "text", "font": "Liberation Sans", "fontSize": 26, "align": "center", "baseline": "alphabetic", "color": "#000"},
   "encoding": {"x": {"field": "x", "type": "quantitative", "scale": {"domain": [0, 181], "nice": false, "zero": false}, "axis": null}, "y": {"field": "y", "type": "quantitative", "scale": {"domain": [0, 236], "reverse": true, "nice": false, "zero": false}, "axis": null}, "text": {"field": "texto"}}}
 ]},
 {"width": 419, "height": 236, "layer": [
  {"data": {"values": [{}]}, "mark": {"type": "rule", "color": "#000", "strokeWidth": 2}, "encoding": {"x": {"value": 0}}},
  {"data": {"values": [{}]}, "mark": {"type": "rule", "color": "#000", "strokeWidth": 2}, "encoding": {"y": {"value": 0}}},
  {"data": {"values": [{"i": 0, "x": 124, "y": 13}, {"i": 1, "x": 120, "y": 15}, {"i": 2, "x": 119, "y": 19}, {"i": 3, "x": 119, "y": 108}, {"i": 4, "x": 117.5, "y": 111}, {"i": 5, "x": 115, "y": 113}, {"i": 6, "x": 117.5, "y": 115}, {"i": 7, "x": 119, "y": 118}, {"i": 8, "x": 119, "y": 209}, {"i": 9, "x": 120, "y": 213}, {"i": 10, "x": 124, "y": 215}]},
   "mark": {"type": "line", "color": "#b85a4a", "strokeWidth": 1.5},
   "encoding": {"x": {"field": "x", "type": "quantitative", "scale": {"domain": [0, 419], "nice": false, "zero": false}, "axis": null}, "y": {"field": "y", "type": "quantitative", "scale": {"domain": [0, 236], "reverse": true, "nice": false, "zero": false}, "axis": null}, "order": {"field": "i"}}},
  {"data": {"values": [
    {"t": "P", "x": 22, "y": 120, "r": "it"}, {"t": "j", "x": 34, "y": 125, "r": "sub"}, {"t": "( a,b ) =", "x": 42, "y": 120, "r": "it"},
    {"t": "1", "x": 125, "y": 33, "r": "it"}, {"t": "se", "x": 155, "y": 33, "r": "it"}, {"t": "d", "x": 193, "y": 33, "r": "it"}, {"t": "j", "x": 203, "y": 38, "r": "sub"}, {"t": "( a , b ) > p", "x": 208, "y": 33, "r": "it"},
    {"t": "[", "x": 125, "y": 100, "r": "it"}, {"t": "d", "x": 135, "y": 100, "r": "it"}, {"t": "j", "x": 145, "y": 105, "r": "sub"}, {"t": "( a , b ) − q ] /( p − q )", "x": 153, "y": 100, "r": "it"},
    {"t": "se", "x": 213, "y": 135, "r": "it"}, {"t": "q <", "x": 253, "y": 135, "r": "it"}, {"t": "d", "x": 283, "y": 135, "r": "it"}, {"t": "j", "x": 293, "y": 140, "r": "sub"}, {"t": "( a , b ) ≤ p", "x": 298, "y": 135, "r": "it"},
    {"t": "0", "x": 123, "y": 203, "r": "it"}, {"t": "se", "x": 155, "y": 203, "r": "it"}, {"t": "d", "x": 193, "y": 203, "r": "it"}, {"t": "j", "x": 203, "y": 208, "r": "sub"}, {"t": "( a , b ) ≤ q", "x": 208, "y": 203, "r": "it"}
   ]},
   "layer": [
    {"transform": [{"filter": "datum.r == 'it'"}], "mark": {"type": "text", "font": "Liberation Serif", "fontStyle": "italic", "fontSize": 20, "align": "left", "baseline": "alphabetic", "color": "#111", "stroke": "#111", "strokeWidth": 0.35},
     "encoding": {"x": {"field": "x", "type": "quantitative", "scale": {"domain": [0, 419], "nice": false, "zero": false}, "axis": null}, "y": {"field": "y", "type": "quantitative", "scale": {"domain": [0, 236], "reverse": true, "nice": false, "zero": false}, "axis": null}, "text": {"field": "t"}}},
    {"transform": [{"filter": "datum.r == 'sub'"}], "mark": {"type": "text", "font": "Liberation Serif", "fontStyle": "italic", "fontSize": 12, "align": "left", "baseline": "alphabetic", "color": "#111"},
     "encoding": {"x": {"field": "x", "type": "quantitative", "scale": {"domain": [0, 419], "nice": false, "zero": false}, "axis": null}, "y": {"field": "y", "type": "quantitative", "scale": {"domain": [0, 236], "reverse": true, "nice": false, "zero": false}, "axis": null}, "text": {"field": "t"}}}
   ]}
 ]},
 {"width": 403, "height": 236, "layer": [
  {"data": {"values": [{}]}, "mark": {"type": "rule", "color": "#000", "strokeWidth": 2}, "encoding": {"x": {"value": 0}}},
  {"data": {"values": [{}]}, "mark": {"type": "rule", "color": "#000", "strokeWidth": 2}, "encoding": {"y": {"value": 0}}},
  {"data": {"values": [{"x": -2.0385, "y": 0, "x2": 4.0192, "y2": 0}, {"x": 0, "y": 0, "x2": 0, "y2": 1.62}, {"x": 2.5769, "y": 0, "x2": 2.5769, "y2": 1}]},
   "mark": {"type": "rule", "color": "#000", "strokeWidth": 2},
   "encoding": {"x": {"field": "x", "type": "quantitative", "scale": {"domain": [-2.51923, 5.23077], "nice": false, "zero": false}, "axis": null}, "y": {"field": "y", "type": "quantitative", "scale": {"domain": [-0.5, 1.769231], "nice": false, "zero": false}, "axis": null}, "x2": {"field": "x2"}, "y2": {"field": "y2"}}},
  {"data": {"values": [{"s": "a", "i": 0, "d": -1.5192, "P": 0}, {"s": "a", "i": 1, "d": 1, "P": 0}, {"s": "a", "i": 2, "d": 2.5769, "P": 1}, {"s": "a", "i": 3, "d": 4.0577, "P": 1}]},
   "mark": {"type": "line", "color": "#000", "strokeWidth": 5, "strokeCap": "butt", "strokeJoin": "miter"},
   "encoding": {"x": {"field": "d", "type": "quantitative", "scale": {"domain": [-2.51923, 5.23077], "nice": false, "zero": false}, "axis": null}, "y": {"field": "P", "type": "quantitative", "scale": {"domain": [-0.5, 1.769231], "nice": false, "zero": false}, "axis": null}, "detail": {"field": "s"}, "order": {"field": "i"}}},
  {"data": {"values": [{"d": 4.1442, "P": 0, "dir": "direita"}, {"d": 0, "P": 1.6827, "dir": "cima"}]},
   "mark": {"type": "point", "filled": true, "color": "#000", "opacity": 1, "size": 289, "strokeWidth": 0},
   "encoding": {"x": {"field": "d", "type": "quantitative", "scale": {"domain": [-2.51923, 5.23077], "nice": false, "zero": false}, "axis": null}, "y": {"field": "P", "type": "quantitative", "scale": {"domain": [-0.5, 1.769231], "nice": false, "zero": false}, "axis": null}, "shape": {"field": "dir", "type": "nominal", "scale": {"domain": ["cima", "direita"], "range": ["M0,-1L0.9,1L-0.9,1Z", "M1,0L-1,0.9L-1,-0.9Z"]}, "legend": null}}},
  {"data": {"values": [
    {"t": "P", "d": -1.2115, "P": 1.6154, "r": "rm"}, {"t": "j", "d": -0.9808, "P": 1.5769, "r": "sub"}, {"t": "(a,b)", "d": -0.8846, "P": 1.6154, "r": "rm"},
    {"t": "1", "d": -0.5385, "P": 1.0288, "r": "rm"},
    {"t": "q", "d": 1.2692, "P": -0.2404, "r": "rm"}, {"t": "p", "d": 2.8269, "P": -0.2404, "r": "rm"},
    {"t": "d", "d": 3.3462, "P": -0.3269, "r": "rm"}, {"t": "j", "d": 3.5577, "P": -0.3654, "r": "sub"}, {"t": "(a,b)", "d": 3.6538, "P": -0.3269, "r": "rm"}
   ]},
   "layer": [
    {"transform": [{"filter": "datum.r == 'rm'"}], "mark": {"type": "text", "font": "Liberation Serif", "fontSize": 21, "align": "left", "baseline": "alphabetic", "color": "#111", "stroke": "#111", "strokeWidth": 0.3},
     "encoding": {"x": {"field": "d", "type": "quantitative", "scale": {"domain": [-2.51923, 5.23077], "nice": false, "zero": false}, "axis": null}, "y": {"field": "P", "type": "quantitative", "scale": {"domain": [-0.5, 1.769231], "nice": false, "zero": false}, "axis": null}, "text": {"field": "t"}}},
    {"transform": [{"filter": "datum.r == 'sub'"}], "mark": {"type": "text", "font": "Liberation Serif", "fontStyle": "italic", "fontSize": 13, "align": "left", "baseline": "alphabetic", "color": "#111"},
     "encoding": {"x": {"field": "d", "type": "quantitative", "scale": {"domain": [-2.51923, 5.23077], "nice": false, "zero": false}, "axis": null}, "y": {"field": "P", "type": "quantitative", "scale": {"domain": [-0.5, 1.769231], "nice": false, "zero": false}, "axis": null}, "text": {"field": "t"}}}
   ]}
 ]},
 {"width": 194, "height": 236, "layer": [
  {"data": {"values": [{}]}, "mark": {"type": "rule", "color": "#000", "strokeWidth": 2}, "encoding": {"x": {"value": 0}}},
  {"data": {"values": [{}]}, "mark": {"type": "rule", "color": "#000", "strokeWidth": 2}, "encoding": {"y": {"value": 0}}},
  {"data": {"values": [{"texto": "q, p", "x": 103, "y": 126}]}, "mark": {"type": "text", "font": "Liberation Sans", "fontSize": 26, "align": "center", "baseline": "alphabetic", "color": "#000"},
   "encoding": {"x": {"field": "x", "type": "quantitative", "scale": {"domain": [0, 194], "nice": false, "zero": false}, "axis": null}, "y": {"field": "y", "type": "quantitative", "scale": {"domain": [0, 236], "reverse": true, "nice": false, "zero": false}, "axis": null}, "text": {"field": "texto"}}}
 ]}
]
}
